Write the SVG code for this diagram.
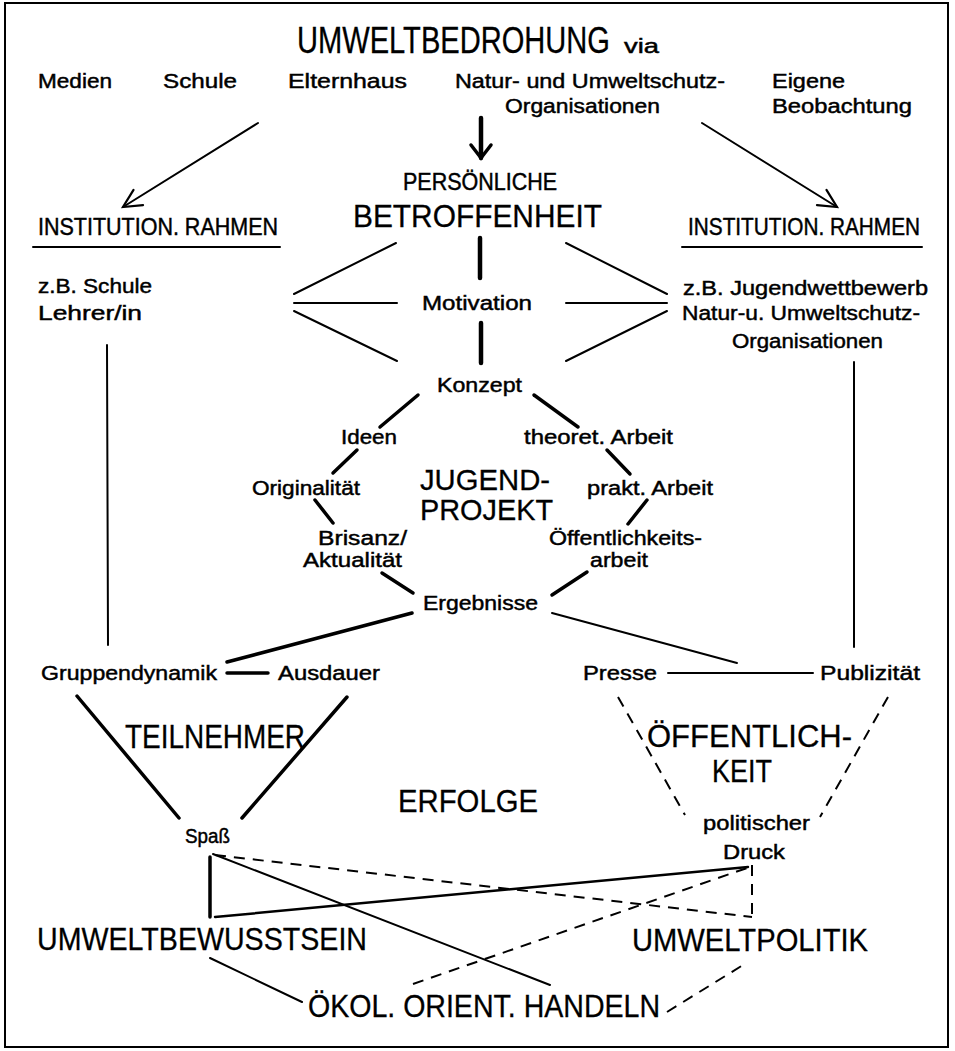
<svg xmlns="http://www.w3.org/2000/svg" width="955" height="1051" viewBox="0 0 955 1051">
<defs>
<style>
text{font-family:"Liberation Sans",Arial,sans-serif;fill:#000;stroke:#000;stroke-width:0.45}
.s{font-size:20px}
.m{font-size:24px}
.b{font-size:32px;stroke-width:0.3}
.xl{font-size:36px;stroke-width:0.3}
.ln{stroke:#000;fill:none;stroke-linecap:round}
.th{stroke-width:2}
.tk{stroke-width:3.5}
.vk{stroke-width:4.5}
.ds{stroke-width:2;stroke-dasharray:11 8;stroke-linecap:butt}
</style>
<marker id="open" markerUnits="userSpaceOnUse" markerWidth="30" markerHeight="30" refX="0" refY="0" viewBox="-20 -15 30 30" orient="auto" overflow="visible">
<path d="M-18,-9 L0,0 L-18,9" fill="none" stroke="#000" stroke-width="2.2" stroke-linecap="round"/>
</marker>
<marker id="openc" markerUnits="userSpaceOnUse" markerWidth="30" markerHeight="30" refX="0" refY="0" viewBox="-20 -15 30 30" orient="auto" overflow="visible">
<path d="M-13,-10 L0,0 L-13,10" fill="none" stroke="#000" stroke-width="3.5" stroke-linecap="round"/>
</marker>
</defs>
<rect x="0" y="0" width="955" height="1051" fill="#fff"/>
<rect x="5" y="3" width="943" height="1044" fill="none" stroke="#000" stroke-width="2"/>

<g id="connectors">
<line class="ln th" x1="258" y1="123" x2="123" y2="207" marker-end="url(#open)"/>
<line class="ln th" x1="702" y1="123" x2="837" y2="207" marker-end="url(#open)"/>
<line class="ln vk" x1="481" y1="118" x2="481" y2="158" marker-end="url(#openc)"/>
<line class="ln th" x1="33" y1="247" x2="280" y2="247"/>
<line class="ln th" x1="682" y1="247" x2="922" y2="247"/>
<line class="ln th" x1="396" y1="243" x2="294" y2="294"/>
<line class="ln th" x1="294" y1="303" x2="397" y2="303"/>
<line class="ln th" x1="294" y1="311" x2="397" y2="361"/>
<line class="ln vk" x1="480" y1="238" x2="480" y2="278"/>
<line class="ln vk" x1="481" y1="323" x2="481" y2="363"/>
<line class="ln th" x1="566" y1="243" x2="667" y2="294"/>
<line class="ln th" x1="566" y1="303" x2="667" y2="303"/>
<line class="ln th" x1="566" y1="361" x2="667" y2="311"/>
<line class="ln th" x1="107" y1="345" x2="108" y2="645"/>
<line class="ln th" x1="854" y1="362" x2="854" y2="647"/>
<line class="ln tk" x1="418" y1="395" x2="380" y2="427"/>
<line class="ln tk" x1="357" y1="450" x2="333" y2="473"/>
<line class="ln tk" x1="315" y1="500" x2="333" y2="523"/>
<line class="ln tk" x1="382" y1="573" x2="413" y2="593"/>
<line class="ln tk" x1="534" y1="395" x2="578" y2="427"/>
<line class="ln tk" x1="607" y1="450" x2="630" y2="474"/>
<line class="ln tk" x1="647" y1="500" x2="628" y2="524"/>
<line class="ln tk" x1="587" y1="572" x2="552" y2="595"/>
<line class="ln tk" x1="412" y1="613" x2="227" y2="662"/>
<line class="ln th" x1="552" y1="613" x2="737" y2="663"/>
<line class="ln tk" x1="227" y1="673" x2="268" y2="673"/>
<line class="ln th" x1="668" y1="673" x2="813" y2="673"/>
<line class="ln tk" x1="77" y1="696" x2="179" y2="818"/>
<line class="ln tk" x1="347" y1="697" x2="242" y2="818"/>
<line class="ln ds" x1="618" y1="697" x2="685" y2="815"/>
<line class="ln ds" x1="888" y1="697" x2="820" y2="817"/>
<line class="ln tk" x1="210" y1="857" x2="210" y2="917"/>
<line class="ln th" x1="213" y1="854" x2="550" y2="985"/>
<line class="ln ds" x1="215" y1="855" x2="752" y2="917"/>
<line class="ln th" x1="215" y1="917" x2="748" y2="867" style="stroke-width:2.5"/>
<line class="ln ds" x1="752" y1="865" x2="752" y2="917"/>
<line class="ln ds" x1="413" y1="984" x2="747" y2="868"/>
<line class="ln th" x1="210" y1="958" x2="302" y2="1002"/>
<line class="ln ds" x1="667" y1="1012" x2="743" y2="965"/>
</g>

<g id="n-umweltbedrohung"><text class="xl" x="297" y="53" textLength="313" lengthAdjust="spacingAndGlyphs">UMWELTBEDROHUNG</text><text class="s" x="624" y="53" textLength="35" lengthAdjust="spacingAndGlyphs">via</text></g>
<g id="n-medien"><text class="s" x="38" y="88" textLength="74" lengthAdjust="spacingAndGlyphs">Medien</text></g>
<g id="n-schule"><text class="s" x="163" y="88" textLength="74" lengthAdjust="spacingAndGlyphs">Schule</text></g>
<g id="n-elternhaus"><text class="s" x="288" y="88" textLength="119" lengthAdjust="spacingAndGlyphs">Elternhaus</text></g>
<g id="n-natur"><text class="s" x="455" y="88" textLength="270" lengthAdjust="spacingAndGlyphs">Natur- und Umweltschutz-</text><text class="s" x="505" y="113" textLength="155" lengthAdjust="spacingAndGlyphs">Organisationen</text></g>
<g id="n-eigene"><text class="s" x="772" y="88" textLength="73" lengthAdjust="spacingAndGlyphs">Eigene</text><text class="s" x="772" y="113" textLength="140" lengthAdjust="spacingAndGlyphs">Beobachtung</text></g>
<g id="n-betroffenheit"><text class="m" x="403" y="190" textLength="154" lengthAdjust="spacingAndGlyphs">PERSÖNLICHE</text><text class="b" x="353" y="227" textLength="249" lengthAdjust="spacingAndGlyphs">BETROFFENHEIT</text></g>
<g id="n-inst-l"><text class="m" x="38" y="235" textLength="240" lengthAdjust="spacingAndGlyphs">INSTITUTION. RAHMEN</text></g>
<g id="n-inst-r"><text class="m" x="688" y="235" textLength="232" lengthAdjust="spacingAndGlyphs">INSTITUTION. RAHMEN</text></g>
<g id="n-schule-l"><text class="s" x="38" y="293" textLength="114" lengthAdjust="spacingAndGlyphs">z.B. Schule</text><text class="s" x="38" y="320" textLength="104" lengthAdjust="spacingAndGlyphs">Lehrer/in</text></g>
<g id="n-motivation"><text class="s" x="422" y="310" textLength="110" lengthAdjust="spacingAndGlyphs">Motivation</text></g>
<g id="n-jugendwettbewerb"><text class="s" x="683" y="295" textLength="245" lengthAdjust="spacingAndGlyphs">z.B. Jugendwettbewerb</text><text class="s" x="682" y="320" textLength="238" lengthAdjust="spacingAndGlyphs">Natur-u. Umweltschutz-</text><text class="s" x="732" y="348" textLength="151" lengthAdjust="spacingAndGlyphs">Organisationen</text></g>
<g id="n-konzept"><text class="s" x="437" y="392" textLength="85" lengthAdjust="spacingAndGlyphs">Konzept</text></g>
<g id="n-ideen"><text class="s" x="341" y="444" textLength="56" lengthAdjust="spacingAndGlyphs">Ideen</text></g>
<g id="n-theoret"><text class="s" x="524" y="444" textLength="149" lengthAdjust="spacingAndGlyphs">theoret. Arbeit</text></g>
<g id="n-jugendprojekt"><text class="b" x="420" y="490" textLength="130" lengthAdjust="spacingAndGlyphs" style="font-size:30px">JUGEND-</text><text class="b" x="420" y="520" textLength="133" lengthAdjust="spacingAndGlyphs" style="font-size:30px">PROJEKT</text></g>
<g id="n-originalitaet"><text class="s" x="252" y="495" textLength="108" lengthAdjust="spacingAndGlyphs">Originalität</text></g>
<g id="n-prakt"><text class="s" x="587" y="495" textLength="126" lengthAdjust="spacingAndGlyphs">prakt. Arbeit</text></g>
<g id="n-brisanz"><text class="s" x="318" y="545" textLength="89" lengthAdjust="spacingAndGlyphs">Brisanz/</text><text class="s" x="303" y="567" textLength="99" lengthAdjust="spacingAndGlyphs">Aktualität</text></g>
<g id="n-oeffarbeit"><text class="s" x="549" y="545" textLength="153" lengthAdjust="spacingAndGlyphs">Öffentlichkeits-</text><text class="s" x="590" y="567" textLength="58" lengthAdjust="spacingAndGlyphs">arbeit</text></g>
<g id="n-ergebnisse"><text class="s" x="423" y="610" textLength="115" lengthAdjust="spacingAndGlyphs">Ergebnisse</text></g>
<g id="n-gruppendynamik"><text class="s" x="41" y="680" textLength="176" lengthAdjust="spacingAndGlyphs">Gruppendynamik</text></g>
<g id="n-ausdauer"><text class="s" x="278" y="680" textLength="102" lengthAdjust="spacingAndGlyphs">Ausdauer</text></g>
<g id="n-presse"><text class="s" x="583" y="680" textLength="74" lengthAdjust="spacingAndGlyphs">Presse</text></g>
<g id="n-publizitaet"><text class="s" x="820" y="680" textLength="100" lengthAdjust="spacingAndGlyphs">Publizität</text></g>
<g id="n-teilnehmer"><text class="b" x="125" y="748" textLength="180" lengthAdjust="spacingAndGlyphs" style="font-size:34px">TEILNEHMER</text></g>
<g id="n-oeffentlichkeit"><text class="b" x="647" y="747" textLength="205" lengthAdjust="spacingAndGlyphs">ÖFFENTLICH-</text><text class="b" x="712" y="782" textLength="60" lengthAdjust="spacingAndGlyphs">KEIT</text></g>
<g id="n-erfolge"><text class="b" x="398" y="812" textLength="140" lengthAdjust="spacingAndGlyphs">ERFOLGE</text></g>
<g id="n-spass"><text class="s" x="185" y="843" textLength="45" lengthAdjust="spacingAndGlyphs">Spaß</text></g>
<g id="n-druck"><text class="s" x="703" y="830" textLength="107" lengthAdjust="spacingAndGlyphs">politischer</text><text class="s" x="723" y="859" textLength="62" lengthAdjust="spacingAndGlyphs">Druck</text></g>
<g id="n-umweltbewusstsein"><text class="b" x="37" y="950" textLength="330" lengthAdjust="spacingAndGlyphs">UMWELTBEWUSSTSEIN</text></g>
<g id="n-umweltpolitik"><text class="b" x="632" y="951" textLength="236" lengthAdjust="spacingAndGlyphs">UMWELTPOLITIK</text></g>
<g id="n-handeln"><text class="b" x="308" y="1017" textLength="352" lengthAdjust="spacingAndGlyphs" style="font-size:31px">ÖKOL. ORIENT. HANDELN</text></g>
</svg>
